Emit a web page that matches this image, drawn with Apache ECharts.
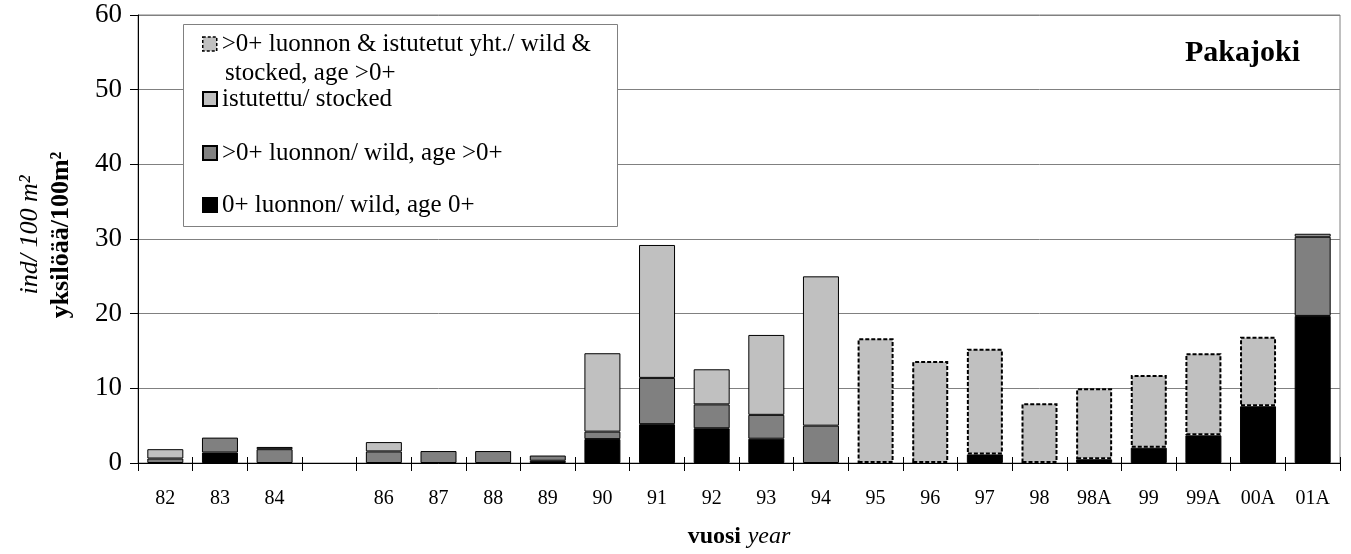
<!DOCTYPE html>
<html>
<head>
<meta charset="utf-8">
<script src="https://cdn.jsdelivr.net/npm/echarts@6/dist/echarts.min.js"></script>
<style>
html,body{margin:0;padding:0;background:#fff;}
#chart{width:1351px;height:554px;}
</style>
</head>
<body>
<div id="chart"></div>
<script>
// ---- data ----
var categories = ['82','83','84','','86','87','88','89','90','91','92','93','94','95','96','97','98','98A','99','99A','00A','01A'];
var wildAge0 = [null,1.4,null,null,null,null,null,0.3,3.2,5.2,4.65,3.25,null,null,null,1.15,null,0.5,2.05,3.7,7.6,19.7];
var wildOlder = [0.6,2.0,1.85,null,1.55,1.6,1.6,0.7,1.0,6.2,3.2,3.2,5.0,null,null,null,null,null,null,null,null,10.6];
var stocked = [1.25,null,0.3,null,1.25,null,null,null,10.5,17.8,4.7,10.7,20.0,null,null,null,null,null,null,null,null,0.4];
var combined = [null,null,null,null,null,null,null,null,null,null,null,null,null,16.7,13.65,14.15,8.0,9.5,9.75,11.0,9.3,null];
var yTicks = {min:0, max:60, interval:10};

var nameCombined = '>0+ luonnon & istutetut yht./ wild & stocked, age >0+';
var nameStocked = 'istutettu/ stocked';
var nameOlder = '>0+ luonnon/ wild, age >0+';
var name0 = '0+ luonnon/ wild, age 0+';

var FONT = "'Liberation Serif','Times New Roman',serif";
var chart = echarts.init(document.getElementById('chart'));

function legendAt(name, top, extraStyle){
  var d = {name:name};
  if (extraStyle) d.itemStyle = extraStyle;
  return {
    data:[d], orient:'vertical', left:202, top:top, padding:0,
    itemWidth:14, itemHeight:14, icon:'rect', selectedMode:false, z:10,
    textStyle:{fontFamily:FONT, fontSize:25, color:'#000', lineHeight:26},
    formatter:function(n){ return n === nameCombined ? '>0+ luonnon & istutetut yht./ wild &' : n; }
  };
}

var barBase = {type:'bar', stack:'total', barWidth:36};

chart.setOption({
  animation:false,
  backgroundColor:'#fff',
  grid:{left:138, right:11, top:15, bottom:88, show:true, borderColor:'#808080', borderWidth:1},
  legend:[
    legendAt(nameCombined, 31, {borderType:[3,2], borderWidth:1.5, borderColor:'#000'}),
    legendAt(nameStocked, 86),
    legendAt(nameOlder, 140),
    legendAt(name0, 192)
  ],
  graphic:[
    {type:'rect', left:183, top:24, z:5, shape:{width:434, height:202},
     style:{fill:'#fff', stroke:'#808080', lineWidth:1}},
    {type:'text', left:225, top:61, z:11,
     style:{text:'stocked, age >0+', font:'25px '+FONT, fill:'#000'}},
    {type:'text', x:1300, y:53, z:11,
     style:{text:'Pakajoki', font:'bold 30px '+FONT, fill:'#000', align:'right', verticalAlign:'middle'}},
    {type:'text', x:30, y:235, rotation:Math.PI/2, z:11,
     style:{text:'ind/ 100 m²', font:'italic 26px '+FONT, fill:'#000', align:'center', verticalAlign:'middle'}},
    {type:'text', x:61, y:235, rotation:Math.PI/2, z:11,
     style:{text:'yksilöää/100m²', font:'bold 26px '+FONT, fill:'#000', align:'center', verticalAlign:'middle'}}
  ],
  xAxis:[{
    type:'category', data:categories, boundaryGap:true,
    axisLine:{lineStyle:{color:'#000', width:1}},
    axisTick:{show:true, alignWithLabel:false, length:8, lineStyle:{color:'#000'}},
    axisLabel:{fontFamily:FONT, fontSize:20, color:'#000', margin:26, interval:0},
    name:'{b|vuosi}  {i|year}', nameLocation:'middle', nameGap:62,
    nameTextStyle:{rich:{b:{fontFamily:FONT, fontSize:24, fontWeight:'bold', color:'#000'}, i:{fontFamily:FONT, fontSize:24, fontStyle:'italic', color:'#000'}}}
  },{
    type:'category', data:categories, boundaryGap:true, position:'bottom',
    axisLine:{show:false},
    axisTick:{show:true, inside:true, length:6, lineStyle:{color:'#000'}},
    axisLabel:{show:false}
  }],
  yAxis:{
    type:'value', min:yTicks.min, max:yTicks.max, interval:yTicks.interval,
    axisLine:{show:true, lineStyle:{color:'#000', width:1}},
    axisTick:{show:true, length:8, lineStyle:{color:'#000'}},
    axisLabel:{fontFamily:FONT, fontSize:27, color:'#000', margin:16},
    splitLine:{show:true, lineStyle:{color:'#808080', width:1}}
  },
  series:[
    Object.assign({}, barBase, {name:name0, data:wildAge0, itemStyle:{color:'#000', borderColor:'#000', borderWidth:1}}),
    Object.assign({}, barBase, {name:nameOlder, data:wildOlder, itemStyle:{color:'#808080', borderColor:'#000', borderWidth:1}}),
    Object.assign({}, barBase, {name:nameStocked, data:stocked, itemStyle:{color:'#C0C0C0', borderColor:'#000', borderWidth:1}}),
    Object.assign({}, barBase, {name:nameCombined, data:combined, itemStyle:{color:'#C0C0C0', borderColor:'#000', borderWidth:2, borderType:[4,2]}})
  ]
});
</script>
</body>
</html>
